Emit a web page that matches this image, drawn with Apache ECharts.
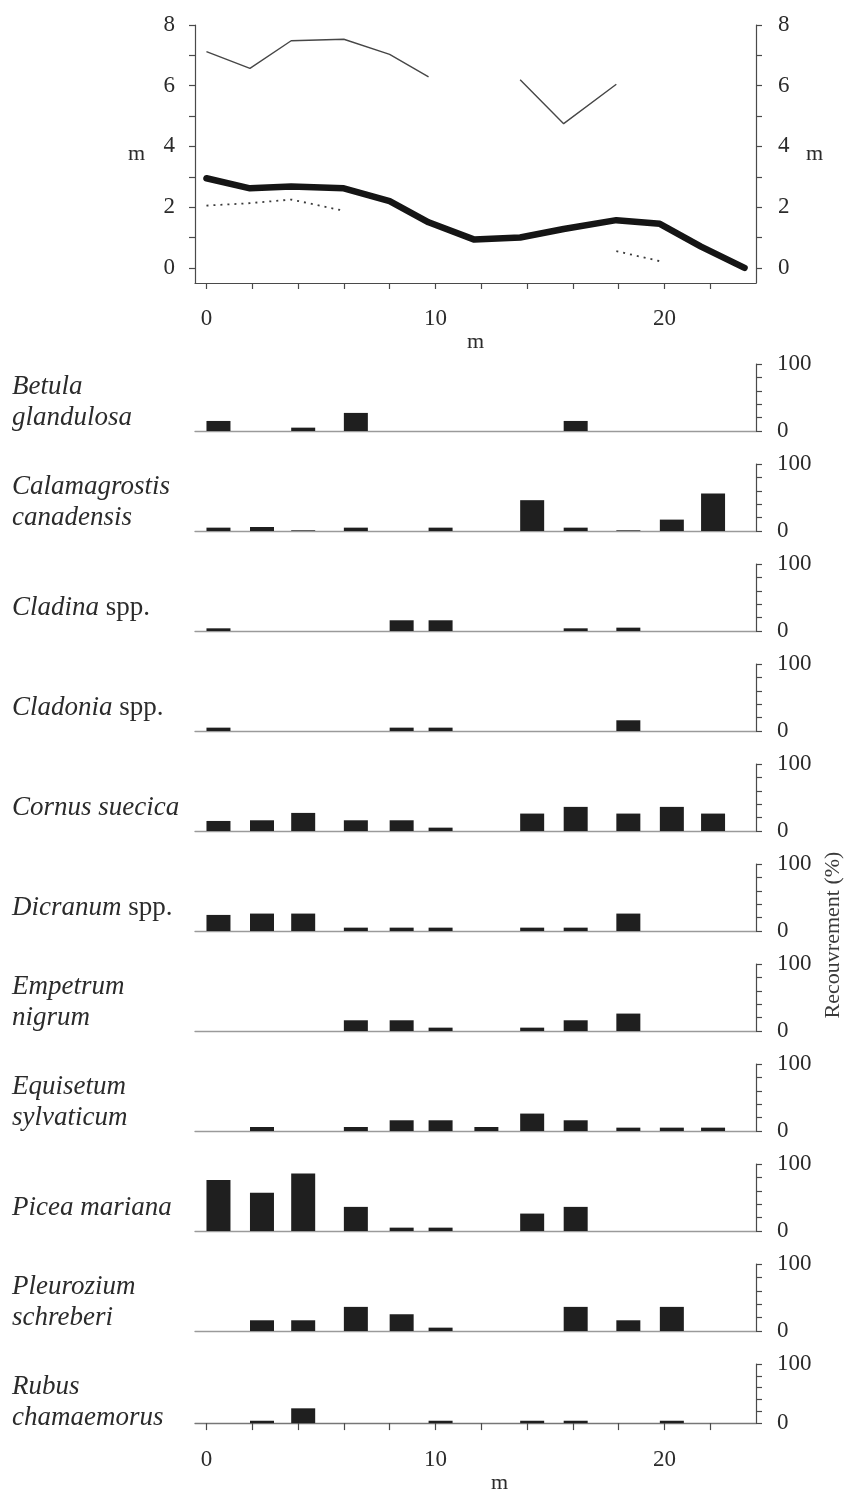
<!DOCTYPE html>
<html>
<head>
<meta charset="utf-8">
<script src="https://cdn.jsdelivr.net/npm/echarts@6/dist/echarts.min.js"></script>
<style>
  html, body { margin: 0; padding: 0; background: #fff; }
  #chart { width: 847px; height: 1495px; }
</style>
</head>
<body>
<div id="chart"></div>
<script>
// Positions of the sampling stations along the transect (m)
const stations = [0, 1.9, 3.7, 6.0, 8.0, 9.7, 11.7, 13.7, 15.6, 17.9, 19.8, 21.6];

// Height profiles along the transect (m)
const meanHeight = [[0, 2.95], [1.9, 2.62], [3.7, 2.68], [6.0, 2.62], [8.0, 2.2], [9.7, 1.5],
  [11.7, 0.93], [13.7, 1.0], [15.6, 1.28], [17.9, 1.57], [19.8, 1.45], [21.6, 0.7], [23.5, 0]];
const maxHeight = [[0, 7.12], [1.9, 6.57], [3.7, 7.48], [6.0, 7.53], [8.0, 7.03], [9.7, 6.29],
  [11.7, '-'], [13.7, 6.2], [15.6, 4.75], [17.9, 6.05]];
const lowHeight = [[0, 2.05], [1.9, 2.13], [3.7, 2.25], [6.0, 1.88], [11.7, '-'],
  [17.9, 0.55], [19.8, 0.22]];

// Cover (%) of each species at each station
const coverBetula        = [15, 0, 5, 27, 0, 0, 0, 0, 15, 0, 0, 0];
const coverCalamagrostis = [5, 6, 1, 5, 0, 5, 0, 46, 5, 1, 17, 56];
const coverCladina       = [4, 0, 0, 0, 16, 16, 0, 0, 4, 5, 0, 0];
const coverCladonia      = [5, 0, 0, 0, 5, 5, 0, 0, 0, 16, 0, 0];
const coverCornus        = [15, 16, 27, 16, 16, 5, 0, 26, 36, 26, 36, 26];
const coverDicranum      = [24, 26, 26, 5, 5, 5, 0, 5, 5, 26, 0, 0];
const coverEmpetrum      = [0, 0, 0, 16, 16, 5, 0, 5, 16, 26, 0, 0];
const coverEquisetum     = [0, 6, 0, 6, 16, 16, 6, 26, 16, 5, 5, 5];
const coverPicea         = [76, 57, 86, 36, 5, 5, 0, 26, 36, 0, 0, 0];
const coverPleurozium    = [0, 16, 16, 36, 25, 5, 0, 0, 36, 16, 36, 0];
const coverRubus         = [0, 4, 25, 0, 0, 4, 0, 4, 4, 0, 4, 0];

const speciesLabels = [
  '{i|Betula}\n{i|glandulosa}',
  '{i|Calamagrostis}\n{i|canadensis}',
  '{i|Cladina} spp.',
  '{i|Cladonia} spp.',
  '{i|Cornus suecica}',
  '{i|Dicranum} spp.',
  '{i|Empetrum}\n{i|nigrum}',
  '{i|Equisetum}\n{i|sylvaticum}',
  '{i|Picea mariana}',
  '{i|Pleurozium}\n{i|schreberi}',
  '{i|Rubus}\n{i|chamaemorus}'
];
const coverSeries = [coverBetula, coverCalamagrostis, coverCladina, coverCladonia, coverCornus,
  coverDicranum, coverEmpetrum, coverEquisetum, coverPicea, coverPleurozium, coverRubus];

// Tick positions
const heightTicks = [0, 1, 2, 3, 4, 5, 6, 7, 8];
const heightLabels = [0, 2, 4, 6, 8];
const distanceTicks = [0, 2, 4, 6, 8, 10, 12, 14, 16, 18, 20, 22];
const distanceLabels = [0, 10, 20];
const coverLabels = [0, 100];

// Layout
const FONT = '"Liberation Serif", "DejaVu Serif", serif';
const INK = '#2b2b2b';
const AXIS = '#4a4a4a';
const LEFT = 195, WIDTH = 561;
const X_MIN = -0.5, X_MAX = 24;
const PANEL_TOP = 364, PANEL_STEP = 100, PANEL_H = 67;
const BAR_SPAN = 1.05; // width of a station quadrat (m)
const BAR_PX = Math.round(BAR_SPAN * WIDTH / (X_MAX - X_MIN));

const grids = [{ left: LEFT, width: WIDTH, top: 25, height: 258 }];
const xAxes = [{
  gridIndex: 0, type: 'value', min: X_MIN, max: X_MAX,
  axisLine: { onZero: false, lineStyle: { color: AXIS, width: 1.2 } },
  axisTick: { customValues: distanceTicks, length: 6, lineStyle: { color: AXIS, width: 1.2 } },
  axisLabel: { customValues: distanceLabels, margin: 24, color: INK, fontFamily: FONT, fontSize: 23 },
  splitLine: { show: false },
  name: 'm', nameLocation: 'middle', nameGap: 42,
  nameTextStyle: { color: INK, fontFamily: FONT, fontSize: 22 }
}];
const heightAxis = (pos) => ({
  gridIndex: 0, type: 'value', position: pos, min: -0.5, max: 8,
  axisLine: { show: true, onZero: false, lineStyle: { color: AXIS, width: 1.2 } },
  axisTick: { show: true, customValues: heightTicks, length: 6, lineStyle: { color: AXIS, width: 1.2 } },
  axisLabel: { customValues: heightLabels, margin: pos === 'left' ? 20 : 22, color: INK, fontFamily: FONT, fontSize: 23 },
  splitLine: { show: false },
  name: 'm', nameLocation: 'middle', nameGap: 50, nameRotate: 0,
  nameTextStyle: { color: INK, fontFamily: FONT, fontSize: 22, padding: [14, 0, 0, 0] }
});
const yAxes = [heightAxis('left'), heightAxis('right')];

const series = [
  {
    type: 'line', xAxisIndex: 0, yAxisIndex: 0, data: maxHeight, showSymbol: false,
    lineStyle: { color: '#474747', width: 1.4 }, silent: true
  },
  {
    type: 'line', xAxisIndex: 0, yAxisIndex: 0, data: lowHeight, showSymbol: false,
    lineStyle: { color: '#3a3a3a', width: 1.8, type: [2, 5] }, silent: true
  },
  {
    type: 'line', xAxisIndex: 0, yAxisIndex: 0, data: meanHeight, showSymbol: false,
    lineStyle: { color: '#151515', width: 6.5, cap: 'round', join: 'round' }, silent: true
  }
];

const graphics = [];
const last = coverSeries.length - 1;

coverSeries.forEach((cover, i) => {
  const g = i + 1;
  const top = PANEL_TOP + i * PANEL_STEP;
  grids.push({ left: LEFT, width: WIDTH, top: top, height: PANEL_H });
  const isLast = i === last;
  xAxes.push({
    gridIndex: g, type: 'value', min: X_MIN, max: X_MAX,
    axisLine: { show: true, onZero: false, lineStyle: { color: isLast ? '#777' : '#9a9a9a', width: 1.3 } },
    axisTick: { show: isLast, customValues: distanceTicks, length: 7, lineStyle: { color: AXIS, width: 1.2 } },
    axisLabel: { show: isLast, customValues: distanceLabels, margin: 25, color: INK, fontFamily: FONT, fontSize: 23 },
    splitLine: { show: false },
    name: isLast ? 'm' : '', nameLocation: 'middle', nameGap: 46,
    nameTextStyle: { color: INK, fontFamily: FONT, fontSize: 22, padding: [0, 0, 0, 48] }
  });
  yAxes.push({
    gridIndex: g, type: 'value', position: 'right', min: 0, max: 100, interval: 20,
    axisLine: { show: true, onZero: false, lineStyle: { color: AXIS, width: 1.2 } },
    axisTick: { show: true, length: 6, lineStyle: { color: AXIS, width: 1.2 } },
    axisLabel: { customValues: coverLabels, margin: 21, color: INK, fontFamily: FONT, fontSize: 23 },
    splitLine: { show: false }
  });
  series.push({
    type: 'bar', xAxisIndex: g, yAxisIndex: yAxes.length - 1, silent: true,
    data: stations.map((s, k) => [s + BAR_SPAN / 2, cover[k]]),
    barWidth: BAR_PX,
    itemStyle: { color: '#1f1f1f', borderWidth: 0 }
  });
  const baseline = top + PANEL_H;
  const twoLines = speciesLabels[i].indexOf('\n') >= 0;
  graphics.push({
    type: 'text', left: 12, top: twoLines ? baseline - 60 : baseline - 39,
    style: {
      text: speciesLabels[i], fill: INK, font: '27px ' + FONT, lineHeight: 31,
      rich: { i: { fontStyle: 'italic', fontSize: 27, fontFamily: FONT, fill: INK, lineHeight: 31 } }
    }
  });
});

graphics.push({
  type: 'text', x: 833, y: 935, rotation: Math.PI / 2,
  style: { text: 'Recouvrement (%)', fill: '#3a3a3a', font: '22px ' + FONT, align: 'center', verticalAlign: 'middle' }
});

const chart = echarts.init(document.getElementById('chart'), null, { renderer: 'canvas' });
chart.setOption({
  animation: false,
  backgroundColor: '#ffffff',
  grid: grids,
  xAxis: xAxes,
  yAxis: yAxes,
  series: series,
  graphic: graphics
});
</script>
</body>
</html>
